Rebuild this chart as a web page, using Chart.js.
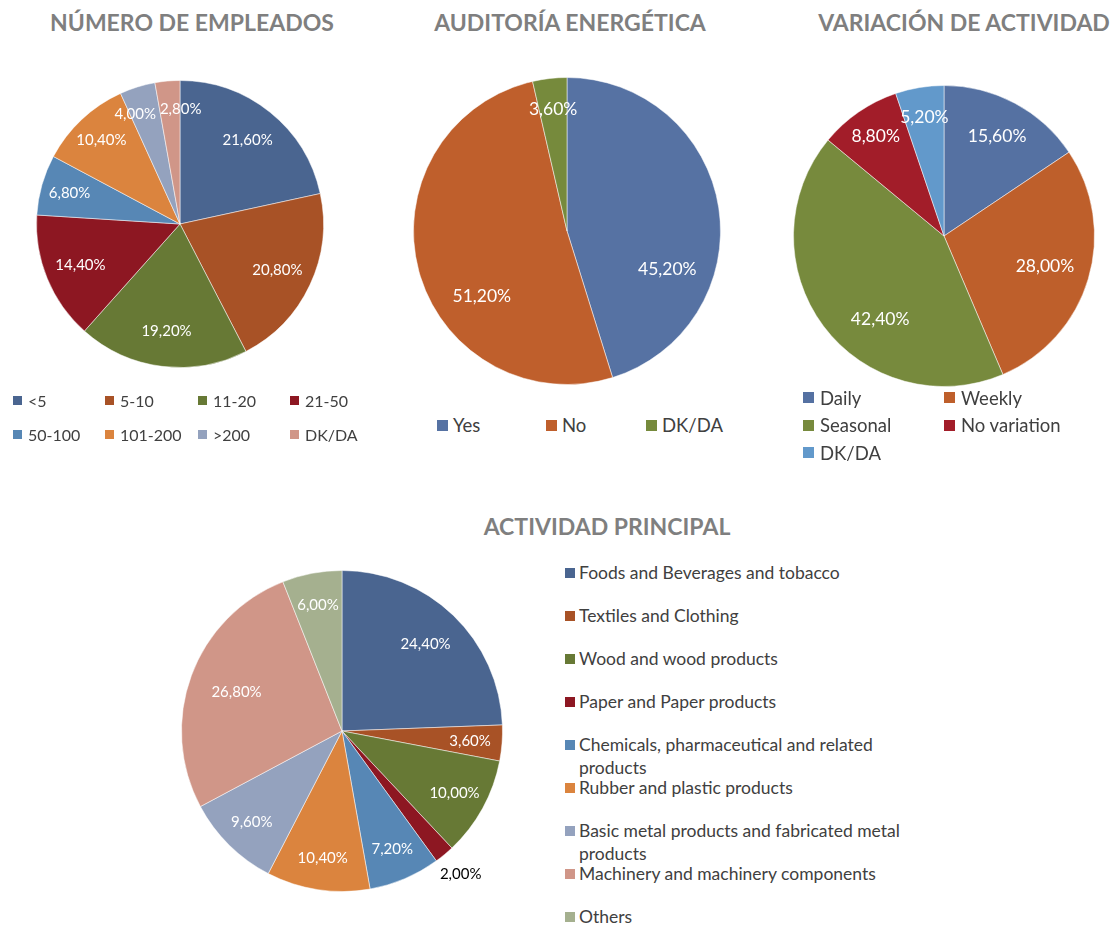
<!DOCTYPE html>
<html>
<head>
<meta charset="utf-8">
<script src="https://cdn.jsdelivr.net/npm/chart.js@4"></script>
<style>
  html, body { margin: 0; padding: 0; background: #fff; }
  body { width: 1117px; height: 929px; position: relative; overflow: hidden; font-family: Lato, "Open Sans", sans-serif; }
  canvas { position: absolute; }
  .title { position: absolute; font-weight: bold; font-size: 23px; color: #7f7f7f; white-space: nowrap; transform: translate(-50%, -50%); }
  .legend { position: absolute; display: grid; color: #404040; }
  .item { display: flex; align-items: center; white-space: nowrap; }
  .item i { display: inline-block; flex: none; }
  .legend.tall .item { align-items: flex-start; white-space: normal; }
</style>
</head>
<body>
<div class="title" style="left:192px;top:22px">NÚMERO DE EMPLEADOS</div>
<div class="title" style="left:570px;top:22px">AUDITORÍA ENERGÉTICA</div>
<div class="title" style="left:964px;top:22px">VARIACIÓN DE ACTIVIDAD</div>
<div class="title" style="left:607px;top:526px">ACTIVIDAD PRINCIPAL</div>

<canvas id="empleados" width="320" height="320" style="left:20px;top:64px"></canvas>
<canvas id="auditoria" width="340" height="340" style="left:397px;top:61px"></canvas>
<canvas id="variacion" width="334" height="334" style="left:777px;top:69px"></canvas>
<canvas id="actividad" width="400" height="400" style="left:142px;top:531px"></canvas>

<div id="leg1" class="legend"></div>
<div id="leg2" class="legend"></div>
<div id="leg3" class="legend"></div>
<div id="leg4" class="legend tall"></div>

<script>
// Número de empleados
const empLabels = ['<5', '5-10', '11-20', '21-50', '50-100', '101-200', '>200', 'DK/DA'];
const empValues = [21.6, 20.8, 19.2, 14.4, 6.8, 10.4, 4.0, 2.8];
const empColors = ['#4a6590', '#a85226', '#677935', '#8d1722', '#5787b5', '#db843e', '#94a2be', '#d09688'];

// Auditoría energética
const audLabels = ['Yes', 'No', 'DK/DA'];
const audValues = [45.2, 51.2, 3.6];
const audColors = ['#5672a3', '#bf5f2c', '#768a3c'];

// Variación de actividad
const varLabels = ['Daily', 'Weekly', 'Seasonal', 'No variation', 'DK/DA'];
const varValues = [15.6, 28.0, 42.4, 8.8, 5.2];
const varColors = ['#5571a2', '#be5f2b', '#778a3d', '#a21d29', '#6299cb'];

// Actividad principal
const actLabels = [
  'Foods and Beverages and tobacco',
  'Textiles and Clothing',
  'Wood and wood products',
  'Paper and Paper products',
  'Chemicals, pharmaceutical and related products',
  'Rubber and plastic products',
  'Basic metal products and fabricated metal products',
  'Machinery and machinery components',
  'Others'
];
const actValues = [24.4, 3.6, 10.0, 2.0, 7.2, 10.4, 9.6, 26.8, 6.0];
const actColors = ['#4a6590', '#a85226', '#677935', '#8d1722', '#5787b5', '#db843e', '#94a2be', '#d09688', '#a5b08f'];

const fmt = v => v.toFixed(2).replace('.', ',') + '%';

// percentage labels on the slices, roughly like a "best fit" placement
const pctLabels = {
  id: 'pctLabels',
  afterDatasetsDraw(chart, args, opts) {
    const ctx = chart.ctx;
    const values = chart.data.datasets[0].data;
    const size = opts.size || 15;
    ctx.save();
    ctx.font = size + 'px Lato';
    ctx.textAlign = 'center';
    ctx.textBaseline = 'middle';
    const labs = chart.getDatasetMeta(0).data.map((arc, i) => {
      const p = arc.getProps(['x', 'y', 'startAngle', 'endAngle', 'outerRadius'], true);
      let mid = (p.startAngle + p.endAngle) / 2;
      const v = values[i];
      const out = v < (opts.outsideBelow || 0);
      let f = v < 12 ? 0.8 : v < 25 ? 0.75 : 0.7;
      if (v >= 40) mid += (Math.PI / 2 - mid) * 0.3;
      if (out) f = 1.16;
      const text = fmt(v);
      return {
        text, out,
        x: p.x + Math.cos(mid) * p.outerRadius * f,
        y: p.y + Math.sin(mid) * p.outerRadius * f,
        w: ctx.measureText(text).width
      };
    });
    // push overlapping neighbours apart sideways
    for (let i = 0; i < labs.length; i++) {
      const a = labs[i], b = labs[(i + 1) % labs.length];
      if (a === b) continue;
      const need = (a.w + b.w) / 2 + 4;
      const dx = b.x - a.x;
      if (Math.abs(a.y - b.y) < size && Math.abs(dx) < need) {
        const s = (need - Math.abs(dx)) / 2 * (dx >= 0 ? 1 : -1);
        a.x -= s;
        b.x += s;
      }
    }
    labs.forEach(l => {
      ctx.fillStyle = l.out ? '#000' : '#fff';
      ctx.fillText(l.text, l.x, l.y);
    });
    ctx.restore();
  }
};

const makePie = (id, labels, values, colors, pad, extra) => new Chart(document.getElementById(id), {
  type: 'pie',
  data: {
    labels: labels,
    datasets: [{ data: values, backgroundColor: colors, borderColor: 'rgba(255,255,255,0.5)', borderWidth: 1 }]
  },
  options: {
    responsive: false,
    animation: false,
    layout: { padding: pad },
    plugins: {
      legend: { display: false },
      tooltip: { enabled: false },
      pctLabels: extra || {}
    }
  },
  plugins: [pctLabels]
});

makePie('empleados', empLabels, empValues, empColors, 16, { size: 15 });
makePie('auditoria', audLabels, audValues, audColors, 16, { size: 17.5 });
makePie('variacion', varLabels, varValues, varColors, 16, { size: 17.5 });
makePie('actividad', actLabels, actValues, actColors, 39, { size: 15, outsideBelow: 2.5 });

// html legends
const legend = (id, labels, colors, o) => {
  const el = document.getElementById(id);
  el.style.left = o.left + 'px';
  el.style.top = o.top + 'px';
  el.style.fontSize = o.font + 'px';
  el.style.gridTemplateColumns = o.cols.map(c => c + 'px').join(' ');
  el.style.gridAutoRows = o.rowH + 'px';
  labels.forEach((l, i) => {
    const it = document.createElement('div');
    it.className = 'item';
    if (o.lineH) it.style.lineHeight = o.lineH + 'px';
    const m = document.createElement('i');
    m.style.width = m.style.height = o.marker + 'px';
    m.style.background = colors[i];
    m.style.marginRight = o.gap + 'px';
    if (o.lineH) m.style.marginTop = ((o.lineH - o.marker) / 2) + 'px';
    const t = document.createElement('span');
    t.textContent = l;
    if (o.textW) t.style.width = o.textW + 'px';
    it.appendChild(m);
    it.appendChild(t);
    el.appendChild(it);
  });
};

legend('leg1', empLabels, empColors, { left: 13, top: 383, font: 16, cols: [92, 93, 92, 92], rowH: 34, marker: 9, gap: 6 });
legend('leg2', audLabels, audColors, { left: 437, top: 410, font: 18.5, cols: [109, 100, 100], rowH: 30, marker: 11, gap: 5 });
legend('leg3', varLabels, varColors, { left: 803, top: 384, font: 18.5, cols: [141, 160], rowH: 27.5, marker: 11, gap: 6 });
legend('leg4', actLabels, actColors, { left: 565, top: 561, font: 17.5, cols: [360], rowH: 43, lineH: 23, marker: 10, gap: 4, textW: 330 });
</script>
</body>
</html>
